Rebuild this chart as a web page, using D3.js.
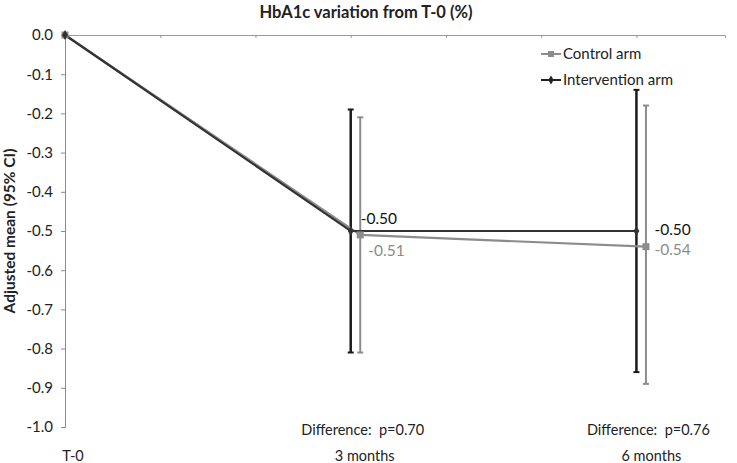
<!DOCTYPE html>
<html>
<head>
<meta charset="utf-8">
<script src="https://cdn.jsdelivr.net/npm/d3@7"></script>
<style>
  body { margin: 0; background: #fff; }
  svg { display: block; font-family: Lato, "Liberation Sans", sans-serif; }
  text { white-space: pre; }
</style>
</head>
<body>
<svg id="chart" width="737" height="463"></svg>
<script>
// ---- data ----
const categories = ["T-0", "3 months", "6 months"];
const months = [0, 3, 6];
const controlMonths = [0, 3.1, 6.1];
const interventionMean = [0, -0.50, -0.50];
const interventionLow = [null, -0.81, -0.86];
const interventionHigh = [null, -0.19, -0.14];
const controlMean = [0, -0.51, -0.54];
const controlLow = [null, -0.81, -0.89];
const controlHigh = [null, -0.21, -0.18];
const pValues = ["", "Difference:  p=0.70", "Difference:  p=0.76"];
const yTicks = [0, -0.1, -0.2, -0.3, -0.4, -0.5, -0.6, -0.7, -0.8, -0.9, -1.0];
const monthTicks = [0, 1, 2, 3, 4, 5, 6];

const svg = d3.select("#chart");
const margin = { left: 65, top: 35, right: 12, bottom: 36 };
const W = 737, H = 463;

const x = d3.scaleLinear().domain([0, 6.93]).range([margin.left, W - margin.right]);
const y = d3.scaleLinear().domain([0, -1]).range([margin.top, H - margin.bottom]);

const ctrlColor = "#8c8c8c";
const intColor = "#1a1a1a";

// title
svg.append("text").attr("x", 366).attr("y", 18).attr("text-anchor", "middle")
  .attr("font-weight", "bold").attr("font-size", 16.5).attr("fill", "#222")
  .text("HbA1c variation from T-0 (%)");

// y axis
const yAxis = d3.axisLeft(y).tickValues(yTicks).tickFormat(d3.format(".1f")).tickSize(4);
const gy = svg.append("g").attr("transform", `translate(${margin.left},0)`).call(yAxis);
gy.select(".domain").attr("stroke", "#8a8a8a");
gy.selectAll(".tick line").attr("stroke", "#8a8a8a");
gy.selectAll(".tick text").attr("font-size", 15).attr("fill", "#222")
  .attr("font-family", "Lato, sans-serif").attr("x", -12)
  .text(d => d === 0 ? "0.0" : d3.format(".1f")(d).replace("−", "-"));

// x axis at top (y=0)
const xAxis = d3.axisBottom(x).tickValues(monthTicks).tickFormat("").tickSize(3);
const gx = svg.append("g").attr("transform", `translate(0,${y(0)})`).call(xAxis);
gx.select(".domain").attr("stroke", "#9a9a9a");
gx.selectAll(".tick line").attr("stroke", "#9a9a9a");

// y-axis title
svg.append("text").attr("transform", `translate(15,${y(-0.5)}) rotate(-90)`)
  .attr("text-anchor", "middle").attr("font-weight", "bold").attr("font-size", 15.5)
  .attr("fill", "#222").text("Adjusted mean (95% CI)");

// category labels
const catOffset = [8, 14, 15];
svg.selectAll(".cat").data(categories).join("text")
  .attr("x", (d, i) => x(months[i]) + catOffset[i]).attr("y", 461)
  .attr("text-anchor", "middle").attr("font-size", 14.5).attr("fill", "#222").text(d => d);

// p-value labels
svg.selectAll(".pv").data(pValues).join("text")
  .attr("x", (d, i) => x(months[i]) + 12).attr("y", 435)
  .attr("text-anchor", "middle").attr("font-size", 14.5).attr("fill", "#222").text(d => d);

// error bars
function errorBars(xs, lows, highs, color, width) {
  const g = svg.append("g");
  xs.forEach((m, i) => {
    if (lows[i] === null) return;
    const cx = x(m);
    g.append("line").attr("x1", cx).attr("x2", cx).attr("y1", y(highs[i])).attr("y2", y(lows[i]))
      .attr("stroke", color).attr("stroke-width", width);
    [highs[i], lows[i]].forEach(v => {
      g.append("line").attr("x1", cx - 3).attr("x2", cx + 3).attr("y1", y(v)).attr("y2", y(v))
        .attr("stroke", color).attr("stroke-width", 2);
    });
  });
}
errorBars(controlMonths, controlLow, controlHigh, ctrlColor, 2);
errorBars(months, interventionLow, interventionHigh, intColor, 2.5);

// lines
const line = d3.line().x(d => x(d[0])).y(d => y(d[1]));
svg.append("path").datum(controlMonths.map((m, i) => [m, controlMean[i]]))
  .attr("d", line).attr("fill", "none").attr("stroke", ctrlColor).attr("stroke-width", 2.2);
svg.append("path").datum(months.map((m, i) => [m, interventionMean[i]]))
  .attr("d", line).attr("fill", "none").attr("stroke", "#333").attr("stroke-width", 2.2);

// markers
svg.selectAll(".csq").data(controlMonths).join("rect")
  .attr("x", (d) => x(d) - 3.5).attr("y", (d, i) => y(controlMean[i]) - 3.5)
  .attr("width", 7).attr("height", 7).attr("fill", ctrlColor);
const diamond = d3.symbol().type(d3.symbolDiamond).size(30);
svg.selectAll(".idm").data(months).join("path")
  .attr("d", diamond).attr("transform", (d, i) => `translate(${x(d)},${y(interventionMean[i])})`)
  .attr("fill", "#333");

// data labels
svg.append("text").attr("x", x(3) + 10).attr("y", y(interventionMean[1]) - 7)
  .attr("font-size", 15.5).attr("fill", "#111").text(interventionMean[1].toFixed(2));
svg.append("text").attr("x", x(3.1) + 8).attr("y", y(controlMean[1]) + 21)
  .attr("font-size", 15.5).attr("fill", ctrlColor).text(controlMean[1].toFixed(2));
svg.append("text").attr("x", x(6) + 18).attr("y", y(interventionMean[2]) + 4)
  .attr("font-size", 15.5).attr("fill", "#111").text(interventionMean[2].toFixed(2));
svg.append("text").attr("x", x(6) + 18).attr("y", y(controlMean[2]) + 8)
  .attr("font-size", 15.5).attr("fill", ctrlColor).text(controlMean[2].toFixed(2));

// legend
const legend = [
  { name: "Control arm", color: ctrlColor, sym: "square" },
  { name: "Intervention arm", color: "#222", sym: "diamond" }
];
legend.forEach((d, i) => {
  const ly = 54 + i * 26;
  svg.append("line").attr("x1", 541).attr("x2", 561).attr("y1", ly).attr("y2", ly)
    .attr("stroke", d.color).attr("stroke-width", 2);
  if (d.sym === "square") {
    svg.append("rect").attr("x", 548).attr("y", ly - 3).attr("width", 6).attr("height", 6).attr("fill", d.color);
  } else {
    svg.append("path").attr("d", d3.symbol().type(d3.symbolDiamond).size(24)())
      .attr("transform", `translate(551,${ly})`).attr("fill", d.color);
  }
  svg.append("text").attr("x", 563).attr("y", ly + 5).attr("font-size", 15).attr("fill", "#222").text(d.name);
});
</script>
</body>
</html>
